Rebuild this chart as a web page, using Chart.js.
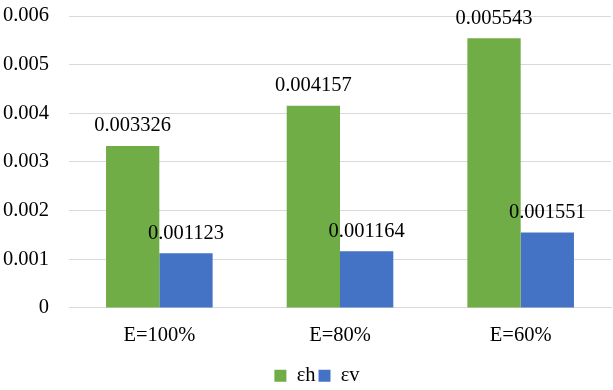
<!DOCTYPE html>
<html>
<head>
<meta charset="utf-8">
<script src="https://cdn.jsdelivr.net/npm/chart.js@4.4.0/dist/chart.umd.min.js"></script>
<style>
  html, body { margin: 0; padding: 0; background: #fff; }
  #box { width: 613px; height: 390px; }
</style>
</head>
<body>
<div id="box"><canvas id="grafico"></canvas></div>
<script>
// categorias y series
var categorias = ['E=100%', 'E=80%', 'E=60%'];
var serieH = [0.003326, 0.004157, 0.005543];
var serieV = [0.001123, 0.001164, 0.001551];
var nombres = ['\u03b5h', '\u03b5v'];

var fuente = '"Liberation Serif", "Times New Roman", serif';
var tam = 20.5;

// etiquetas encima de las barras
var etiquetas = {
  id: 'etiquetas',
  afterLayout: function(chart) {
    // la leyenda del original esta un poco a la derecha
    chart.legend.left += 11;
    chart.legend.right += 11;
  },
  afterDatasetsDraw: function(chart) {
    var ctx = chart.ctx;
    ctx.save();
    ctx.font = tam + 'px ' + fuente;
    ctx.fillStyle = '#000';
    ctx.textAlign = 'center';
    ctx.textBaseline = 'middle';
    chart.data.datasets.forEach(function(ds, i) {
      chart.getDatasetMeta(i).data.forEach(function(bar, j) {
        ctx.fillText(ds.data[j].toFixed(6), bar.x, bar.y - 20);
      });
    });
    ctx.restore();
  }
};

function inicio() {
  var ctx = document.getElementById('grafico').getContext('2d');
  new Chart(ctx, {
    type: 'bar',
    data: {
      labels: categorias,
      datasets: [{
        label: nombres[0],
        data: serieH,
        backgroundColor: '#70ad47'
      }, {
        label: nombres[1],
        data: serieV,
        backgroundColor: '#4472c4'
      }]
    },
    options: {
      responsive: true,
      maintainAspectRatio: false,
      animation: false,
      layout: { padding: { left: 1, right: 2, top: 0, bottom: -6 } },
      datasets: { bar: { barPercentage: 1, categoryPercentage: 0.59 } },
      scales: {
        y: {
          min: 0,
          max: 0.006,
          afterFit: function(s) { s.width = 68; s.paddingTop = 16; s.paddingBottom = 0; },
          ticks: {
            stepSize: 0.001,
            color: '#000',
            padding: 20,
            font: { family: fuente, size: tam },
            callback: function(v) { return v === 0 ? '0' : v.toFixed(3); }
          },
          grid: { color: '#d9d9d9', lineWidth: 1, drawTicks: false },
          border: { display: false }
        },
        x: {
          ticks: {
            color: '#000',
            padding: 15,
            font: { family: fuente, size: tam }
          },
          grid: { display: false, drawTicks: false },
          border: { color: '#d9d9d9' }
        }
      },
      plugins: {
        tooltip: { enabled: false },
        legend: {
          position: 'bottom',
          labels: {
            color: '#000',
            boxWidth: 12,
            boxHeight: 12,
            padding: 3,
            font: { family: fuente, size: tam }
          }
        }
      }
    },
    plugins: [etiquetas]
  });
}
window.onload = inicio;
</script>
</body>
</html>
